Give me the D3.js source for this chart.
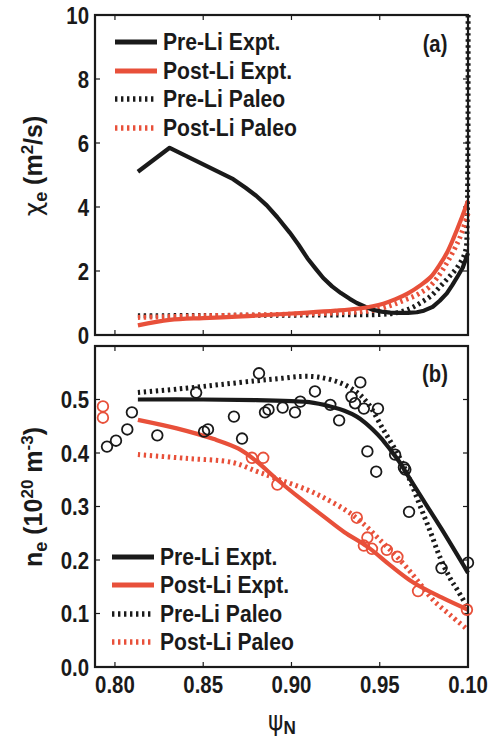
<!DOCTYPE html>
<html><head><meta charset="utf-8">
<script src="https://cdn.jsdelivr.net/npm/d3@7"></script>
<style>
body{margin:0;background:#fff;}
svg{display:block;}
text{font-family:'Liberation Sans','Arial',sans-serif;font-weight:bold;fill:#1a1a1a;}
</style></head>
<body><svg id="c" width="496" height="742"></svg>
<script>
// ---------- data ----------
const xTickVals = [0.80, 0.85, 0.90, 0.95, 1.00];
const xTickLabels = ["0.80", "0.85", "0.90", "0.95", "0.10"];
const topYTicks = [0, 2, 4, 6, 8, 10];
const botYTicks = [0, 0.1, 0.2, 0.3, 0.4, 0.5];
const botYLabels = ["0.0", "0.1", "0.2", "0.3", "0.4", "0.5"];
const seriesNames = ["Pre-Li Expt.", "Post-Li Expt.", "Pre-Li Paleo", "Post-Li Paleo"];

// (a) chi_e
const chiPreExpt = [[0.813,5.1],[0.831,5.85],[0.867,4.87],[0.874,4.6],[0.880,4.35],[0.886,4.05],[0.892,3.68],[0.899,3.2],[0.904,2.82],[0.909,2.4],[0.914,2.05],[0.918,1.78],[0.923,1.52],[0.928,1.31],[0.933,1.13],[0.937,1.0],[0.942,0.88],[0.946,0.79],[0.951,0.73],[0.956,0.7],[0.961,0.69],[0.966,0.69],[0.971,0.71],[0.975,0.76],[0.980,0.88],[0.984,1.07],[0.988,1.3],[0.991,1.55],[0.994,1.82],[0.997,2.1],[1.0,2.56]];
const chiPostExpt = [[0.813,0.3],[0.831,0.47],[0.850,0.53],[0.872,0.58],[0.890,0.64],[0.909,0.7],[0.925,0.76],[0.937,0.82],[0.946,0.9],[0.952,0.98],[0.959,1.12],[0.966,1.3],[0.973,1.55],[0.979,1.82],[0.984,2.2],[0.988,2.56],[0.992,3.05],[0.996,3.6],[1.0,4.2]];
const chiPrePaleo = [[0.813,0.6],[0.85,0.61],[0.90,0.62],[0.93,0.63],[0.950,0.64],[0.960,0.7],[0.967,0.82],[0.973,1.0],[0.979,1.22],[0.984,1.5],[0.989,1.8],[0.994,2.12],[0.9985,2.6],[0.9995,3.5],[1.0,12]];
const chiPostPaleo = [[0.813,0.55],[0.85,0.6],[0.90,0.65],[0.93,0.7],[0.945,0.76],[0.956,0.92],[0.963,1.07],[0.969,1.2],[0.974,1.35],[0.978,1.5],[0.983,1.82],[0.988,2.25],[0.992,2.65],[0.9955,3.06],[1.0,3.8]];

// (b) n_e
const nePreExpt = [[0.813,0.50],[0.85,0.50],[0.88,0.499],[0.90,0.497],[0.91,0.495],[0.922,0.487],[0.930,0.479],[0.937,0.468],[0.942,0.456],[0.946,0.444],[0.951,0.427],[0.956,0.406],[0.961,0.384],[0.965,0.363],[0.975,0.31],[0.985,0.258],[1.0,0.176]];
const nePostExpt = [[0.813,0.462],[0.835,0.446],[0.856,0.426],[0.870,0.408],[0.880,0.385],[0.892,0.350],[0.905,0.315],[0.918,0.282],[0.930,0.252],[0.943,0.225],[0.956,0.19],[0.969,0.158],[0.985,0.13],[1.0,0.107]];
const nePrePaleo = [[0.813,0.513],[0.84,0.521],[0.86,0.528],[0.88,0.535],[0.893,0.539],[0.905,0.543],[0.915,0.542],[0.927,0.532],[0.936,0.516],[0.943,0.494],[0.952,0.444],[0.961,0.393],[0.967,0.35],[0.973,0.30],[0.979,0.25],[0.984,0.206],[0.990,0.165],[0.994,0.144],[1.0,0.11]];
const nePostPaleo = [[0.813,0.397],[0.84,0.39],[0.867,0.382],[0.880,0.366],[0.890,0.354],[0.909,0.331],[0.922,0.31],[0.933,0.288],[0.942,0.264],[0.950,0.238],[0.958,0.212],[0.965,0.187],[0.973,0.155],[0.980,0.126],[0.990,0.097],[1.0,0.069]];

const preCircles = [[0.7955,0.412],[0.8006,0.423],[0.807,0.444],[0.8096,0.476],[0.824,0.433],[0.846,0.513],[0.8505,0.440],[0.8527,0.444],[0.8674,0.468],[0.872,0.427],[0.8816,0.549],[0.885,0.476],[0.887,0.481],[0.895,0.485],[0.902,0.476],[0.905,0.496],[0.9133,0.515],[0.922,0.490],[0.927,0.461],[0.934,0.505],[0.936,0.493],[0.939,0.532],[0.941,0.483],[0.943,0.403],[0.948,0.365],[0.949,0.483],[0.9587,0.397],[0.9637,0.373],[0.9645,0.369],[0.9666,0.290],[0.985,0.185],[1.0,0.195]];
const postCircles = [[0.7932,0.487],[0.7932,0.466],[0.8776,0.391],[0.884,0.391],[0.892,0.341],[0.937,0.279],[0.943,0.242],[0.941,0.227],[0.9456,0.221],[0.954,0.219],[0.960,0.206],[0.9717,0.142],[0.9994,0.107]];

// ---------- drawing ----------
const BLACK = "#1a1a1a", RED = "#e8503a";
const svg = d3.select("#c");
const L = 95, R = 468;
const x = d3.scaleLinear().domain([0.7887, 1.0]).range([L, R]);
const yTop = d3.scaleLinear().domain([0, 10]).range([335, 15]);
const yBot = d3.scaleLinear().domain([0, 0.6]).range([667, 346]);

function txt(parent, tx, ty, str, size, anchor, sx) {
  return parent.append("text")
    .attr("transform", `translate(${tx},${ty}) scale(${sx},1)`)
    .attr("text-anchor", anchor || "start")
    .style("font-size", size + "px").text(str);
}

const styles = [
  {color: BLACK, dash: null, w: 4.2},
  {color: RED, dash: null, w: 4.2},
  {color: BLACK, dash: "2.4,3.6", w: 5},
  {color: RED, dash: "2.4,3.6", w: 5}
];

function panel(y, id, yTicks, yLabels, series, label, legY, legX0) {
  const T = y.range()[1], B = y.range()[0];
  svg.append("clipPath").attr("id", id).append("rect")
    .attr("x", L).attr("y", T - 2).attr("width", R - L + 3).attr("height", B - T + 2);
  const g = svg.append("g");
  const tk = 5;
  xTickVals.slice(0, 4).forEach(v => {
    g.append("line").attr("x1", x(v)).attr("x2", x(v)).attr("y1", B).attr("y2", B - tk).attr("stroke", BLACK).attr("stroke-width", 1.2);
    g.append("line").attr("x1", x(v)).attr("x2", x(v)).attr("y1", T).attr("y2", T + tk).attr("stroke", BLACK).attr("stroke-width", 1.2);
  });
  yTicks.forEach(v => {
    g.append("line").attr("x1", L).attr("x2", L + tk).attr("y1", y(v)).attr("y2", y(v)).attr("stroke", BLACK).attr("stroke-width", 1.2);
    g.append("line").attr("x1", R).attr("x2", R - tk).attr("y1", y(v)).attr("y2", y(v)).attr("stroke", BLACK).attr("stroke-width", 1.2);
  });
  yTicks.forEach((v, i) => txt(g, L - 6, y(v) + 8.5, yLabels[i], 24, "end", 0.85));
  const order = [2, 3, 0, 1];
  const lg = g.append("g").attr("clip-path", `url(#${id})`);
  order.forEach(i => {
    const line = d3.line().x(d => x(d[0])).y(d => y(d[1]))
      .curve(i === 0 && id === "clipA" ? d3.curveLinear : d3.curveCatmullRom.alpha(0.5));
    lg.append("path").datum(series[i]).attr("d", line)
      .attr("fill", "none").attr("stroke", styles[i].color).attr("stroke-width", styles[i].w)
      .attr("stroke-dasharray", styles[i].dash).attr("stroke-linejoin", "round");
  });
  g.append("rect").attr("x", L).attr("y", T).attr("width", R - L).attr("height", B - T)
    .attr("fill", "none").attr("stroke", BLACK).attr("stroke-width", 2.2);
  txt(g, 435, T + label.dy, label.t, 23, "middle", 0.88);
  legY.forEach((ly, i) => {
    g.append("line").attr("x1", legX0).attr("x2", legX0 + 42).attr("y1", ly).attr("y2", ly)
      .attr("stroke", styles[i].color).attr("stroke-width", styles[i].dash ? 5.5 : 5)
      .attr("stroke-dasharray", styles[i].dash);
    txt(g, legX0 + 48, ly + 8, seriesNames[i], 23, "start", 0.92);
  });
  return g;
}

panel(yTop, "clipA", topYTicks, topYTicks.map(String),
  [chiPreExpt, chiPostExpt, chiPrePaleo, chiPostPaleo], {t: "(a)", dy: 37}, [42, 71, 99, 128], 115);
panel(yBot, "clipB", botYTicks, botYLabels,
  [nePreExpt, nePostExpt, nePrePaleo, nePostPaleo], {t: "(b)", dy: 36}, [557, 585, 614, 642], 112);

const cg = svg.append("g");
preCircles.forEach(d => cg.append("circle").attr("cx", x(d[0])).attr("cy", yBot(d[1])).attr("r", 5.3)
  .attr("fill", "none").attr("stroke", BLACK).attr("stroke-width", 1.8));
postCircles.forEach(d => cg.append("circle").attr("cx", x(d[0])).attr("cy", yBot(d[1])).attr("r", 5.3)
  .attr("fill", "none").attr("stroke", RED).attr("stroke-width", 1.8));

xTickVals.forEach((v, i) => txt(svg, x(v), 693, xTickLabels[i], 24, "middle", 0.85));

// axis titles
const xt = svg.append("text").attr("transform", `translate(282,730) scale(0.9,1)`).attr("text-anchor", "middle");
xt.append("tspan").style("font-family", "'DejaVu Sans',sans-serif").style("font-weight", "normal").style("font-size", "26px").text("ψ");
xt.append("tspan").attr("dy", 4).style("font-size", "19px").text("N");

const yt1 = svg.append("text").attr("transform", `translate(42,166) rotate(-90)`).attr("text-anchor", "middle").style("font-size", "25px");
yt1.append("tspan").style("font-family", "'DejaVu Sans',sans-serif").style("font-weight", "normal").text("χ");
yt1.append("tspan").attr("dy", 5).style("font-size", "18px").text("e");
yt1.append("tspan").attr("dy", -5).text(" (m");
yt1.append("tspan").attr("dy", -9).style("font-size", "17px").text("2");
yt1.append("tspan").attr("dy", 9).text("/s)");

const yt2 = svg.append("text").attr("transform", `translate(42,497) rotate(-90)`).attr("text-anchor", "middle").style("font-size", "25px");
yt2.append("tspan").text("n");
yt2.append("tspan").attr("dy", 5).style("font-size", "18px").text("e");
yt2.append("tspan").attr("dy", -5).text(" (10");
yt2.append("tspan").attr("dy", -9).style("font-size", "17px").text("20");
yt2.append("tspan").attr("dy", 9).text(" m");
yt2.append("tspan").attr("dy", -9).style("font-size", "17px").text("-3");
yt2.append("tspan").attr("dy", 9).text(")");
</script></body></html>
